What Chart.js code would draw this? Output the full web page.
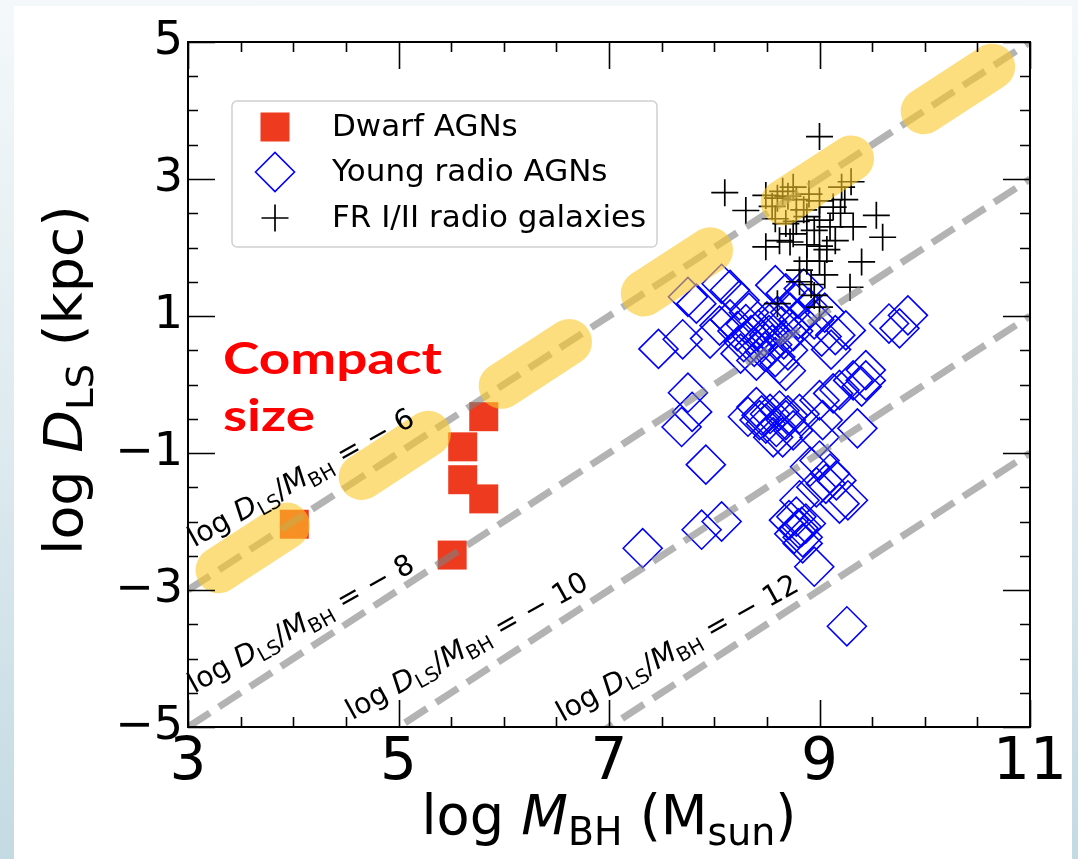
<!DOCTYPE html>
<html>
<head>
<meta charset="utf-8">
<script src="https://cdn.jsdelivr.net/npm/chart.js@4.4.1/dist/chart.umd.min.js"></script>
<style>
  html, body { margin: 0; padding: 0; }
  body {
    width: 1078px; height: 859px; overflow: hidden; position: relative;
    background: linear-gradient(to bottom, #f4f8fa 0%, #dce9ee 55%, #c4dae3 100%);
  }
  #panel { position: absolute; left: 14px; top: 6px; width: 1058px; height: 853px; background: #fff; }
  #wrap { position: absolute; left: 0; top: 0; width: 1078px; height: 859px; }
</style>
</head>
<body>
<div id="panel"></div>
<div id="wrap"><canvas id="chart" width="1078" height="859"></canvas></div>
<script>
// axis ticks
const xTicks = [3, 5, 7, 9, 11];
const yTicks = [-5, -3, -1, 1, 3, 5];

// constant log(D_LS / M_BH) lines
const ratioLevels = [-6, -8, -10, -12];

// stretches of the -6 line marked in yellow (log M_BH from, to)
const highlightSpans = [[3.29, 3.94], [4.65, 5.28], [5.98, 6.62], [7.33, 7.96], [8.66, 9.30], [9.99, 10.64]];

// [log M_BH, log D_LS]
const dwarfAgns = [[4.01, -2.04], [5.81, -0.47], [5.61, -0.91], [5.61, -1.39], [5.81, -1.67], [5.51, -2.49]];

const youngRadioAgns = [
  [7.47, 0.52], [7.70, 0.66], [7.75, 1.28], [7.83, 1.18], [8.07, 1.47], [8.15, 1.38], [8.24, 1.23],
  [7.96, 0.67], [8.05, 0.86],
  [8.15, 0.95], [8.22, 0.78], [8.28, 0.62], [8.30, 0.88], [8.35, 0.72], [8.38, 0.55], [8.42, 0.80],
  [8.45, 0.66], [8.48, 0.48], [8.50, 0.92], [8.52, 0.72], [8.55, 0.58], [8.58, 0.40], [8.62, 0.30],
  [8.64, 0.85], [8.66, 0.66], [8.70, 0.50], [8.72, 1.05], [8.75, 0.78], [8.80, 0.95], [8.40, 0.35],
  [8.33, 1.05], [8.25, 0.45], [8.60, 1.00], [8.68, 0.20],
  [8.68, 1.33], [8.80, 1.25], [8.90, 1.12], [8.58, 1.45], [8.95, 0.95], [9.05, 1.05], [8.85, 1.40],
  [9.11, 0.51], [9.25, 0.79], [9.15, 0.72], [9.66, 0.89], [9.76, 0.82], [9.84, 1.01], [9.02, 0.70],
  [7.75, -0.12], [7.79, -0.40], [7.69, -0.62], [8.32, -0.47], [8.40, -0.33], [8.43, -0.52], [8.49, -0.57],
  [8.53, -0.43], [8.59, -0.62], [8.62, -0.38], [8.56, -0.77], [8.65, -0.77], [8.68, -0.52], [8.75, -0.67],
  [8.81, -0.43], [9.00, -0.23], [9.13, -0.13], [9.19, -0.08], [9.03, -0.52], [9.00, -0.77], [9.36, -0.64],
  [9.44, 0.06], [9.32, 0.06], [9.44, 0.21], [9.40, -0.03], [8.45, -0.45], [8.70, -0.45],
  [7.92, -1.17], [8.91, -1.20], [9.00, -1.11], [9.10, -1.30], [9.06, -1.45], [9.16, -1.40], [9.27, -1.69],
  [9.19, -1.74], [8.81, -1.69], [8.97, -1.50], [8.71, -1.98], [8.78, -1.93], [8.83, -2.08], [8.76, -2.18],
  [8.84, -2.23], [8.87, -2.03], [8.84, -2.32], [8.80, -2.10],
  [7.32, -2.39], [7.88, -2.12], [8.07, -2.00], [8.95, -2.66], [9.26, -3.53]
];

const frGalaxies = [
  [9.00, 3.62], [8.10, 2.80], [8.30, 2.54], [8.49, 2.76], [8.60, 2.72], [8.70, 2.75], [8.78, 2.70],
  [8.90, 2.78], [9.00, 2.68], [8.65, 2.82], [8.75, 2.88], [9.21, 2.88], [9.30, 2.96], [9.24, 2.70],
  [9.13, 2.59], [9.54, 2.47], [9.60, 2.15], [9.40, 1.79], [9.29, 1.42], [8.60, 1.18], [9.00, 1.13],
  [8.81, 1.67], [8.49, 2.01], [8.62, 2.10], [8.72, 2.08], [8.88, 2.04], [9.00, 2.02], [9.07, 1.97],
  [9.32, 2.30], [9.00, 2.40], [8.88, 2.45], [8.78, 2.38], [8.68, 2.35], [8.58, 2.42], [9.00, 1.80],
  [8.88, 1.80], [8.81, 1.50], [8.92, 1.46], [8.75, 2.20], [8.95, 2.25], [9.10, 2.30], [9.15, 2.10],
  [8.55, 2.60], [8.85, 2.55], [9.20, 2.50], [8.95, 1.30], [9.05, 1.60]
];

const toPoints = arr => arr.map(([x, y]) => ({ x, y }));
const minusFmt = v => (v < 0 ? '\u2212' : '') + Math.abs(v);
const FONT = '"DejaVu Sans", sans-serif';

// text pieces: [text, kind] with kind 'i' italic, 's' subscript, 0 plain
function richText(ctx, parts, size, x, y, draw) {
  let cx = x;
  for (const [t, kind] of parts) {
    const s = kind === 's' ? size * 0.7 : size;
    ctx.font = (kind === 'i' ? 'italic ' : '') + s + 'px ' + FONT;
    if (draw) ctx.fillText(t, cx, y + (kind === 's' ? size * 0.2 : 0));
    cx += ctx.measureText(t).width;
  }
  return cx - x;
}

const xTitle = [['log ', 0], ['M', 'i'], ['BH', 's'], [' (M', 0], ['sun', 's'], [')', 0]];
const yTitle = [['log ', 0], ['D', 'i'], ['LS', 's'], [' (kpc)', 0]];
const ratioLabel = c => [['log ', 0], ['D', 'i'], ['LS', 's'], ['/', 0], ['M', 'i'], ['BH', 's'], [' = \u2212 ' + Math.abs(c), 0]];

// frame, inward ticks, labels, legend and annotation
const decorations = {
  id: 'decorations',
  afterDatasetsDraw(chart) {
    const { ctx, chartArea: a, scales: { x, y } } = chart;
    ctx.save();
    ctx.strokeStyle = '#000';
    ctx.lineWidth = 1.6;
    for (let v = 3; v <= 11.001; v += 0.5) {
      const px = Math.round(x.getPixelForValue(v)) + 0.5;
      const len = xTicks.includes(v) ? 27 : 10;
      ctx.beginPath();
      ctx.moveTo(px, a.bottom); ctx.lineTo(px, a.bottom - len);
      ctx.moveTo(px, a.top); ctx.lineTo(px, a.top + len);
      ctx.stroke();
    }
    for (let v = -5; v <= 5.001; v += 0.5) {
      const py = Math.round(y.getPixelForValue(v)) + 0.5;
      const len = yTicks.includes(v) ? 27 : 10;
      ctx.beginPath();
      ctx.moveTo(a.left, py); ctx.lineTo(a.left + len, py);
      ctx.moveTo(a.right, py); ctx.lineTo(a.right - len, py);
      ctx.stroke();
    }
    ctx.lineWidth = 2;
    ctx.strokeRect(a.left, a.top, a.right - a.left, a.bottom - a.top);

    // labels along the ratio lines
    const slope = Math.atan2(y.getPixelForValue(1) - y.getPixelForValue(0),
                             x.getPixelForValue(1) - x.getPixelForValue(0));
    const labelAt = { '-6': [3.06, -2.38], '-8': [3.06, -4.51], '-10': [4.56, -4.90], '-12': [6.56, -4.93] };
    ctx.fillStyle = '#000';
    ctx.textBaseline = 'alphabetic';
    ratioLevels.forEach(c => {
      const [lx, ly] = labelAt[c];
      ctx.save();
      ctx.translate(x.getPixelForValue(lx), y.getPixelForValue(ly));
      ctx.rotate(slope * 0.88);
      richText(ctx, ratioLabel(c), 28.5, 0, 0, true);
      ctx.restore();
    });

    // "Compact size"
    ctx.fillStyle = '#ff0000';
    ctx.font = 'bold 44px Lato, "Open Sans", sans-serif';
    const sx = 219 / ctx.measureText('Compact').width;
    ctx.save();
    ctx.translate(223, 374);
    ctx.scale(sx, 1);
    ctx.fillText('Compact', 0, 0);
    ctx.fillText('size', 0, 57);
    ctx.restore();

    // legend
    const lx = 232, ly = 101, lw = 425, lh = 146;
    ctx.fillStyle = 'rgba(255,255,255,0.85)';
    ctx.strokeStyle = '#d0d0d0';
    ctx.lineWidth = 1.5;
    ctx.beginPath();
    ctx.roundRect(lx, ly, lw, lh, 5);
    ctx.fill();
    ctx.stroke();
    const rows = [127, 172, 218];
    ctx.font = '31px ' + FONT;
    ctx.textBaseline = 'middle';
    chart.data.datasets.filter(d => d.inLegend).forEach((d, i) => {
      const cx = 275, cy = rows[i], r = d.pointRadius;
      ctx.beginPath();
      if (d.pointStyle === 'rect') {
        const h = r * Math.SQRT1_2;
        ctx.fillStyle = d.backgroundColor;
        ctx.fillRect(cx - h, cy - h, 2 * h, 2 * h);
      } else if (d.pointStyle === 'rectRot') {
        ctx.moveTo(cx - r, cy); ctx.lineTo(cx, cy - r); ctx.lineTo(cx + r, cy); ctx.lineTo(cx, cy + r);
        ctx.closePath();
        ctx.strokeStyle = d.borderColor; ctx.lineWidth = d.borderWidth;
        ctx.stroke();
      } else {
        ctx.moveTo(cx - r, cy); ctx.lineTo(cx + r, cy); ctx.moveTo(cx, cy - r); ctx.lineTo(cx, cy + r);
        ctx.strokeStyle = d.borderColor; ctx.lineWidth = d.borderWidth;
        ctx.stroke();
      }
      ctx.fillStyle = '#000';
      ctx.fillText(d.label, 332, cy + 1);
    });
    ctx.restore();
  },
  afterDraw(chart) {
    const { ctx, chartArea: a } = chart;
    ctx.save();
    ctx.fillStyle = '#000';
    ctx.textBaseline = 'alphabetic';
    // x title
    let w = richText(ctx, xTitle, 56, 0, 0, false);
    ctx.save();
    ctx.translate((a.left + a.right) / 2 - 375 / 2, 834);
    ctx.scale(375 / w, 1);
    richText(ctx, xTitle, 56, 0, 0, true);
    ctx.restore();
    // y title
    w = richText(ctx, yTitle, 54, 0, 0, false);
    ctx.save();
    ctx.translate(82, 380 + 350 / 2);
    ctx.rotate(-Math.PI / 2);
    ctx.scale(350 / w, 1);
    richText(ctx, yTitle, 54, 0, 0, true);
    ctx.restore();
    ctx.restore();
  }
};

const datasets = [];

// yellow highlights on top
highlightSpans.forEach(([x0, x1]) => {
  datasets.push({
    type: 'line', data: [{ x: x0, y: x0 - 6 }, { x: x1, y: x1 - 6 }],
    borderColor: 'rgba(252,200,40,0.6)', borderWidth: 46, borderCapStyle: 'round',
    pointRadius: 0, order: 0
  });
});

ratioLevels.forEach(c => {
  datasets.push({
    type: 'line', data: [{ x: 3, y: 3 + c }, { x: 11, y: 11 + c }],
    borderColor: 'rgba(128,128,128,0.6)', borderWidth: 7, borderDash: [26, 11],
    borderCapStyle: 'butt', pointRadius: 0, clip: 0, order: 1
  });
});

datasets.push({
  label: 'Dwarf AGNs', inLegend: true, data: toPoints(dwarfAgns),
  pointStyle: 'rect', pointRadius: 20.5, backgroundColor: '#ee3b1f', borderWidth: 0, order: 4
});
datasets.push({
  label: 'Young radio AGNs', inLegend: true, data: toPoints(youngRadioAgns),
  pointStyle: 'rectRot', pointRadius: 19.5, backgroundColor: 'rgba(0,0,0,0)',
  borderColor: '#0000ff', borderWidth: 1.6, order: 3
});
datasets.push({
  label: 'FR I/II radio galaxies', inLegend: true, data: toPoints(frGalaxies),
  pointStyle: 'cross', pointRadius: 13.5, borderColor: '#000', borderWidth: 1.7, order: 2
});

new Chart(document.getElementById('chart'), {
  type: 'scatter',
  data: { datasets },
  options: {
    responsive: false,
    animation: false,
    devicePixelRatio: 1,
    events: [],
    layout: { padding: { left: 0, top: 42, right: 48, bottom: 0 } },
    plugins: { legend: { display: false }, tooltip: { enabled: false } },
    scales: {
      x: {
        type: 'linear', min: 3, max: 11,
        afterBuildTicks: s => { s.ticks = xTicks.map(v => ({ value: v })); },
        afterFit: s => { s.height = 132; s.paddingLeft = 0; s.paddingRight = 0; },
        grid: { display: false, drawTicks: false },
        border: { display: false },
        ticks: { font: { family: FONT, size: 58 }, color: '#000', padding: 2, maxRotation: 0, autoSkip: false, callback: minusFmt }
      },
      y: {
        type: 'linear', min: -5, max: 5,
        afterBuildTicks: s => { s.ticks = yTicks.map(v => ({ value: v })); },
        afterFit: s => { s.width = 188; s.paddingTop = 0; s.paddingBottom = 0; },
        grid: { display: false, drawTicks: false },
        border: { display: false },
        ticks: { font: { family: FONT, size: 46 }, color: '#000', padding: 5, autoSkip: false, callback: minusFmt }
      }
    }
  },
  plugins: [decorations]
});
</script>
</body>
</html>
